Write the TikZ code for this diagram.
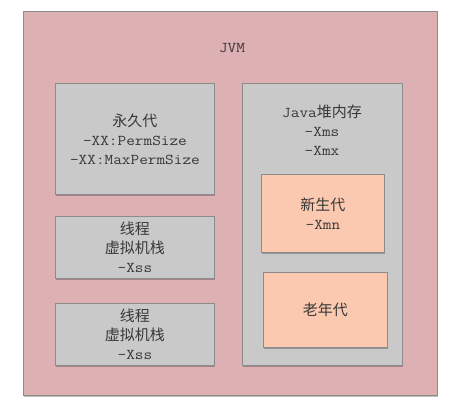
\documentclass[tikz,border=0pt]{standalone}
\usepackage{fontspec}
\newfontfamily\cjk{Noto Sans CJK SC}
\setmonofont[FakeStretch=1.12]{Latin Modern Mono}
\usetikzlibrary{shadows}
\definecolor{jvmfill}{HTML}{DDB1B3}
\definecolor{greyfill}{HTML}{C9C9C9}
\definecolor{orangefill}{HTML}{FBC9B0}
\definecolor{edge}{HTML}{8C8C8C}
\definecolor{txt}{HTML}{383838}
\tikzset{
  box/.style={draw=edge, line width=0.9pt, anchor=north west, inner sep=0pt,
    drop shadow={shadow xshift=1pt, shadow yshift=-1.2pt, opacity=0.25, fill=black}},
  outerbox/.style={box, fill=jvmfill},
  greybox/.style={box, fill=greyfill},
  orangebox/.style={box, fill=orangefill},
  lbl/.style={text=txt, align=center, inner sep=0pt,
    font=\ttfamily\fontsize{15}{19}\selectfont},
}
\newcommand{\zh}[1]{{\cjk\fontsize{15}{19}\selectfont #1}}
\begin{document}
\begin{tikzpicture}[x=1pt,y=-1pt]
\useasboundingbox[fill=white] (0,0) rectangle (475,419);
\node[outerbox, minimum width=414pt, minimum height=384pt] (jvm) at (23,11) {};
\node[lbl] (jvmt) at (232,48) {JVM};
\node[greybox, minimum width=159pt, minimum height=111pt] (perm) at (55,83) {};
\node[lbl] (permt) at (perm.center) {\zh{永久代}\\-XX:PermSize\\-XX:MaxPermSize};
\node[greybox, minimum width=159pt, minimum height=62pt] (th1) at (55,216) {};
\node[lbl] (th1t) at (th1.center) {\zh{线程}\\\zh{虚拟机栈}\\-Xss};
\node[greybox, minimum width=159pt, minimum height=62pt] (th2) at (55,303) {};
\node[lbl] (th2t) at (th2.center) {\zh{线程}\\\zh{虚拟机栈}\\-Xss};
\node[greybox, minimum width=160pt, minimum height=282pt] (heap) at (242,83) {};
\node[lbl] (heapt) at (322,130) {Java\zh{堆内存}\\-Xms\\-Xmx};
\node[orangebox, minimum width=123pt, minimum height=78pt] (young) at (261,174) {};
\node[lbl] (youngt) at (young.center) {\zh{新生代}\\-Xmn};
\node[orangebox, minimum width=124pt, minimum height=75pt] (old) at (263,272) {};
\node[lbl] (oldt) at (old.center) {\zh{老年代}};
\end{tikzpicture}
\end{document}
